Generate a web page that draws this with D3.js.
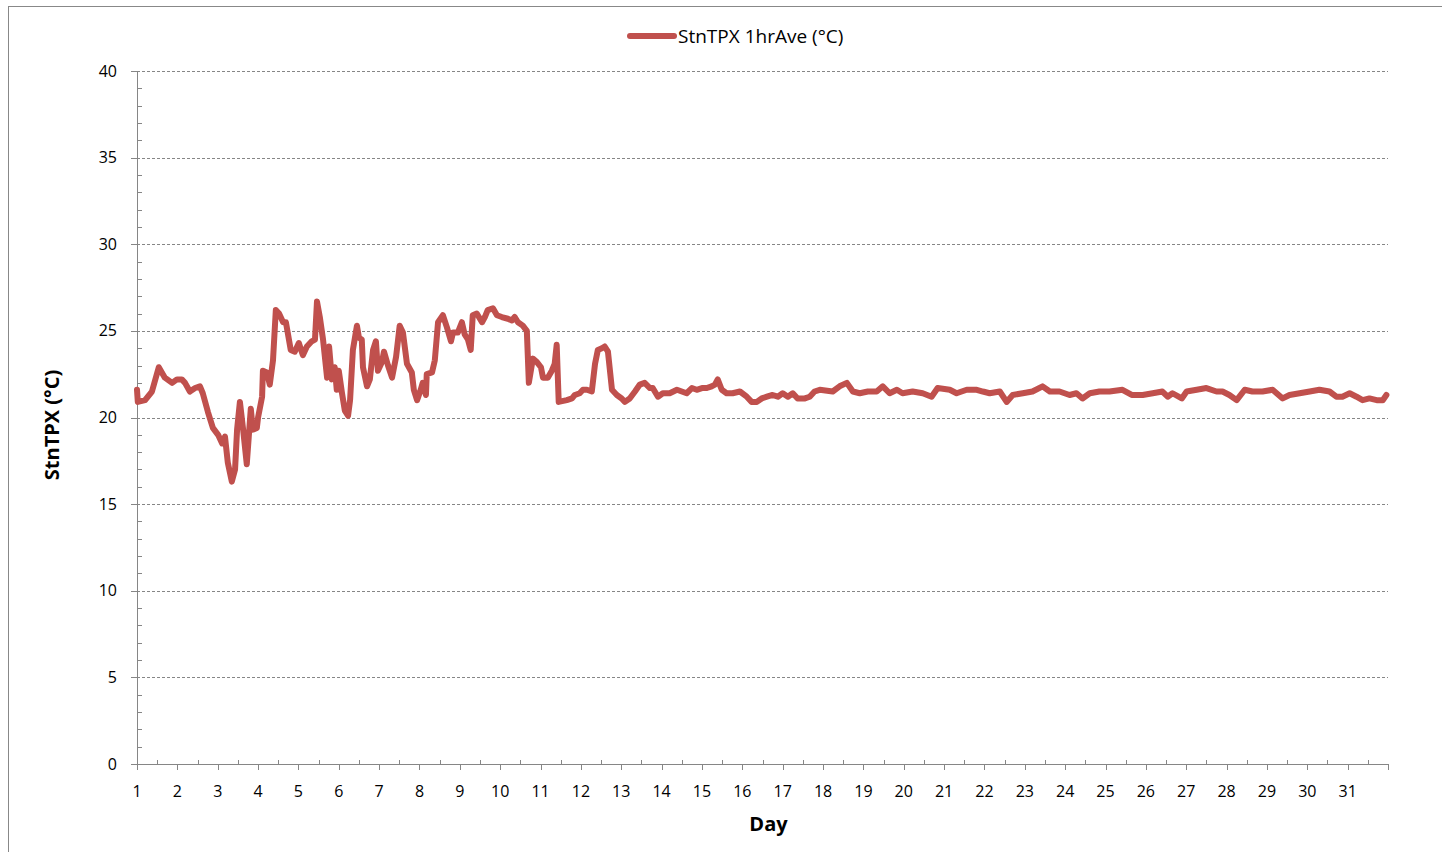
<!DOCTYPE html>
<html>
<head>
<meta charset="utf-8">
<script src="https://cdn.jsdelivr.net/npm/d3@7"></script>
<style>
  body { margin: 0; background: #fff; }
  svg text { font-family: "Open Sans", "DejaVu Sans", sans-serif; fill: #000; }
</style>
</head>
<body>
<svg id="chart"></svg>
<script>
const W = 1442;
const H = 852;
const margin = { top: 71, right: 54, bottom: 88, left: 137 };
const innerW = W - margin.left - margin.right;
const innerH = H - margin.top - margin.bottom;

const seriesName = "StnTPX 1hrAve (°C)";
const yLabel = "StnTPX (°C)";
const xLabel = "Day";

const yTicks = [0, 5, 10, 15, 20, 25, 30, 35, 40];
const dayTicks = d3.range(1, 33);
const dayLabels = d3.range(1, 32);

// day (fractional) and hourly average temperature
const days = [
  1.00, 1.02, 1.20, 1.37, 1.54, 1.69, 1.87, 1.99, 2.11, 2.19, 2.31, 2.44, 2.56, 2.63, 2.76, 2.88,
  3.01, 3.11, 3.18, 3.25, 3.35, 3.43, 3.48, 3.55, 3.63, 3.72, 3.77, 3.82, 3.87, 3.97, 4.00, 4.10,
  4.12, 4.22, 4.29, 4.37, 4.44, 4.52, 4.62, 4.69, 4.81, 4.91, 5.01, 5.11, 5.21, 5.33, 5.41, 5.46,
  5.53, 5.61, 5.71, 5.76, 5.83, 5.90, 5.95, 6.00, 6.08, 6.15, 6.23, 6.28, 6.35, 6.45, 6.50, 6.57,
  6.60, 6.70, 6.77, 6.85, 6.92, 6.97, 7.07, 7.12, 7.22, 7.32, 7.42, 7.51, 7.59, 7.69, 7.81, 7.86,
  7.94, 8.03, 8.08, 8.16, 8.18, 8.31, 8.38, 8.46, 8.58, 8.68, 8.78, 8.83, 8.95, 9.05, 9.12, 9.20,
  9.27, 9.32, 9.42, 9.55, 9.62, 9.69, 9.82, 9.92, 10.04, 10.19, 10.29, 10.36, 10.44, 10.56, 10.66,
  10.71, 10.81, 10.91, 11.01, 11.06, 11.18, 11.28, 11.35, 11.40, 11.45, 11.65, 11.78, 11.85, 11.97,
  12.05, 12.15, 12.27, 12.35, 12.42, 12.52, 12.59, 12.67, 12.77, 12.89, 13.01, 13.09, 13.21, 13.34,
  13.46, 13.58, 13.71, 13.78, 13.91, 14.03, 14.20, 14.38, 14.50, 14.62, 14.75, 14.87, 15.00, 15.12,
  15.24, 15.32, 15.39, 15.49, 15.61, 15.76, 15.94, 16.11, 16.23, 16.36, 16.48, 16.61, 16.75, 16.88,
  17.00, 17.13, 17.25, 17.37, 17.55, 17.67, 17.79, 17.92, 18.24, 18.41, 18.59, 18.74, 18.91, 19.11,
  19.33, 19.48, 19.65, 19.83, 19.97, 20.22, 20.47, 20.69, 20.84, 21.14, 21.31, 21.56, 21.81, 21.96,
  22.13, 22.38, 22.55, 22.70, 22.95, 23.19, 23.44, 23.62, 23.86, 24.11, 24.28, 24.43, 24.61, 24.85,
  25.10, 25.42, 25.65, 25.92, 26.17, 26.41, 26.54, 26.66, 26.89, 27.01, 27.26, 27.50, 27.75, 27.90,
  28.07, 28.25, 28.45, 28.64, 28.89, 29.14, 29.39, 29.56, 29.81, 30.06, 30.30, 30.55, 30.72, 30.87,
  31.05, 31.22, 31.37, 31.54, 31.72, 31.87, 31.96
];
const temps = [
  21.6, 20.9, 21.0, 21.5, 22.9, 22.3, 22.0, 22.2, 22.2, 22.0, 21.5, 21.7, 21.8, 21.4, 20.3, 19.4,
  19.0, 18.5, 18.9, 17.4, 16.3, 17.0, 19.3, 20.9, 19.3, 17.3, 18.9, 20.5, 19.3, 19.4, 20.0, 21.2,
  22.7, 22.6, 21.9, 23.3, 26.2, 26.0, 25.5, 25.5, 23.9, 23.8, 24.3, 23.6, 24.1, 24.4, 24.5, 26.7,
  25.8, 24.5, 22.3, 24.1, 22.2, 22.9, 21.6, 22.7, 21.4, 20.4, 20.1, 21.0, 23.9, 25.3, 24.6, 24.5,
  22.9, 21.8, 22.2, 23.9, 24.4, 22.7, 23.2, 23.8, 23.0, 22.3, 23.5, 25.3, 24.9, 23.1, 22.6, 21.6,
  21.0, 21.6, 22.0, 21.3, 22.5, 22.6, 23.3, 25.5, 25.9, 25.2, 24.4, 24.9, 24.9, 25.5, 24.8, 24.5,
  23.9, 25.9, 26.0, 25.5, 25.8, 26.2, 26.3, 25.9, 25.8, 25.7, 25.6, 25.8, 25.5, 25.3, 25.0,
  22.0, 23.4, 23.2, 22.9, 22.3, 22.3, 22.7, 23.1, 24.2, 20.9, 21.0, 21.1, 21.3, 21.4,
  21.6, 21.6, 21.5, 23.1, 23.9, 24.0, 24.1, 23.8, 21.6, 21.3, 21.1, 20.9, 21.1, 21.5,
  21.9, 22.0, 21.7, 21.7, 21.2, 21.4, 21.4, 21.6, 21.5, 21.4, 21.7, 21.6, 21.7, 21.7,
  21.8, 21.9, 22.2, 21.6, 21.4, 21.4, 21.5, 21.2, 20.9, 20.9, 21.1, 21.2, 21.3, 21.2,
  21.4, 21.2, 21.4, 21.1, 21.1, 21.2, 21.5, 21.6, 21.5, 21.8, 22.0, 21.5, 21.4, 21.5,
  21.5, 21.8, 21.4, 21.6, 21.4, 21.5, 21.4, 21.2, 21.7, 21.6, 21.4, 21.6, 21.6, 21.5,
  21.4, 21.5, 20.9, 21.3, 21.4, 21.5, 21.8, 21.5, 21.5, 21.3, 21.4, 21.1, 21.4, 21.5,
  21.5, 21.6, 21.3, 21.3, 21.4, 21.5, 21.2, 21.4, 21.1, 21.5, 21.6, 21.7, 21.5, 21.5,
  21.3, 21.0, 21.6, 21.5, 21.5, 21.6, 21.1, 21.3, 21.4, 21.5, 21.6, 21.5, 21.2, 21.2,
  21.4, 21.2, 21.0, 21.1, 21.0, 21.0, 21.3
];

const data = days.map((d, i) => ({ day: d, temp: temps[i] }));

const svg = d3.select("#chart").attr("width", W).attr("height", H);

// chart frame
svg.append("rect")
  .attr("x", 8.5).attr("y", 6.5)
  .attr("width", W).attr("height", H)
  .attr("fill", "none")
  .attr("stroke", "#888")
  .attr("stroke-width", 1);

const g = svg.append("g")
  .attr("transform", `translate(${margin.left},${margin.top})`);

const x = d3.scaleLinear().domain([1, 32]).range([0, innerW]);
const y = d3.scaleLinear().domain([0, 40]).range([innerH, 0]);

// gridlines
g.append("g")
  .selectAll("line")
  .data(yTicks.filter(t => t > 0))
  .join("line")
  .attr("x1", 0).attr("x2", innerW)
  .attr("y1", d => Math.round(y(d)) + 0.5)
  .attr("y2", d => Math.round(y(d)) + 0.5)
  .attr("stroke", "#868686")
  .attr("stroke-dasharray", "3,2");

// y axis: major ticks out, minor ticks in
const yAxis = g.append("g");
yAxis.append("line")
  .attr("x1", 0.5).attr("x2", 0.5)
  .attr("y1", 0).attr("y2", innerH)
  .attr("stroke", "#868686");
yAxis.selectAll(".ymaj")
  .data(yTicks)
  .join("line")
  .attr("x1", -6).attr("x2", 0)
  .attr("y1", d => Math.round(y(d)) + 0.5)
  .attr("y2", d => Math.round(y(d)) + 0.5)
  .attr("stroke", "#868686");
yAxis.selectAll(".ymin")
  .data(d3.range(0, 41).filter(v => v % 5 !== 0))
  .join("line")
  .attr("x1", 0).attr("x2", 5)
  .attr("y1", d => Math.round(y(d)) + 0.5)
  .attr("y2", d => Math.round(y(d)) + 0.5)
  .attr("stroke", "#868686");
yAxis.selectAll("text")
  .data(yTicks)
  .join("text")
  .attr("x", -20)
  .attr("y", d => y(d))
  .attr("dy", "0.35em")
  .attr("text-anchor", "end")
  .style("font-size", "16px")
  .text(d => d);

// x axis: major ticks down, minor ticks up
const xAxis = g.append("g").attr("transform", `translate(0,${innerH})`);
xAxis.append("line")
  .attr("x1", 0).attr("x2", innerW)
  .attr("y1", 0.5).attr("y2", 0.5)
  .attr("stroke", "#868686");
xAxis.selectAll(".xmaj")
  .data(dayTicks)
  .join("line")
  .attr("x1", d => Math.round(x(d)) + 0.5)
  .attr("x2", d => Math.round(x(d)) + 0.5)
  .attr("y1", 0).attr("y2", 6)
  .attr("stroke", "#868686");
xAxis.selectAll(".xmin")
  .data(dayTicks.slice(0, -1).map(d => d + 0.5))
  .join("line")
  .attr("x1", d => Math.round(x(d)) + 0.5)
  .attr("x2", d => Math.round(x(d)) + 0.5)
  .attr("y1", -4).attr("y2", 0)
  .attr("stroke", "#868686");
xAxis.selectAll("text")
  .data(dayLabels)
  .join("text")
  .attr("x", d => x(d))
  .attr("y", 33)
  .attr("text-anchor", "middle")
  .style("font-size", "16px")
  .text(d => d);

// series line
const line = d3.line()
  .x(d => x(d.day))
  .y(d => y(d.temp));

g.append("path")
  .datum(data)
  .attr("d", line)
  .attr("fill", "none")
  .attr("stroke", "#C0504D")
  .attr("stroke-width", 6)
  .attr("stroke-linejoin", "round")
  .attr("stroke-linecap", "round");

// axis titles
svg.append("text")
  .attr("x", margin.left + innerW / 2 + 6)
  .attr("y", 831)
  .attr("text-anchor", "middle")
  .style("font-size", "20px")
  .style("font-weight", "bold")
  .text(xLabel);

svg.append("text")
  .attr("transform", "rotate(-90)")
  .attr("x", -425)
  .attr("y", 59)
  .attr("text-anchor", "middle")
  .style("font-size", "20px")
  .style("font-weight", "bold")
  .text(yLabel);

// legend
const legend = svg.append("g");
legend.append("line")
  .attr("x1", 630).attr("x2", 674)
  .attr("y1", 36).attr("y2", 36)
  .attr("stroke", "#C0504D")
  .attr("stroke-width", 6)
  .attr("stroke-linecap", "round");
legend.append("text")
  .attr("x", 678)
  .attr("y", 36)
  .attr("dy", "0.35em")
  .style("font-size", "19px")
  .text(seriesName);
</script>
</body>
</html>
